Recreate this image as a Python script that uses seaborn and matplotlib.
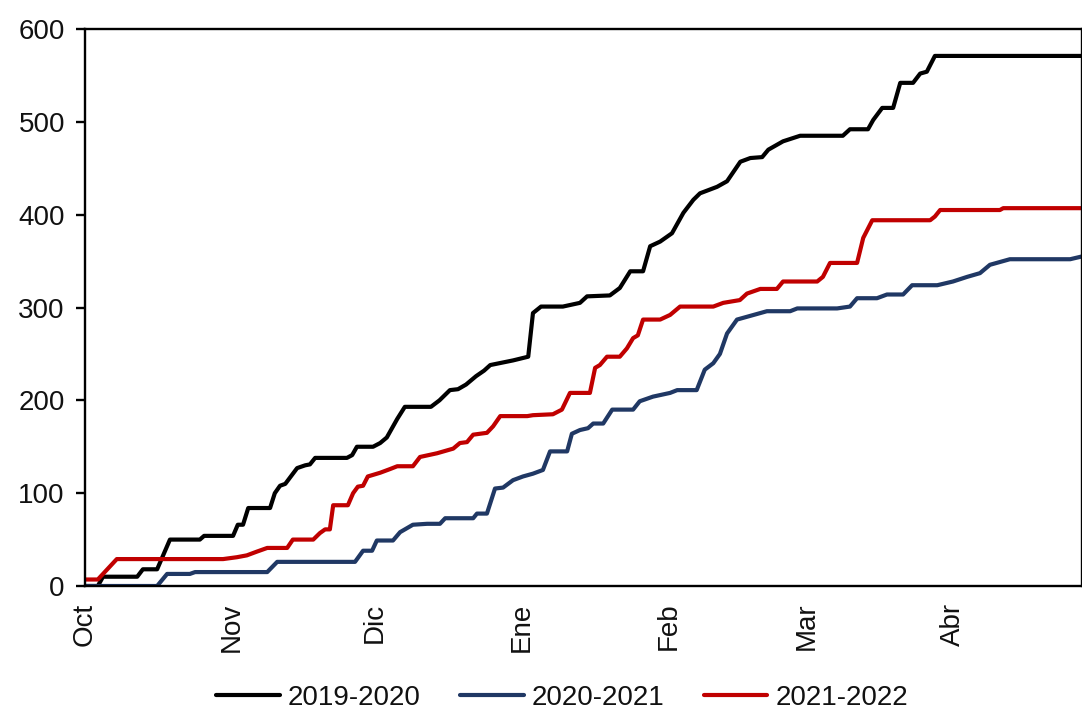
import matplotlib
matplotlib.use("Agg")
import matplotlib.pyplot as plt
import seaborn as sns
import pandas as pd

# Days since 1 October, cumulative values
days_1920 = [0, 2.7, 3.8, 11.0, 12.2, 15.2, 17.9, 24.2, 25.1, 31.2, 32.2, 33.3, 34.4, 39.0, 40.0, 41.1, 42.2,
             44.7, 46.4, 47.4, 48.5, 55.2, 56.3, 57.3, 60.7, 62.2, 63.6, 65.8, 67.4, 72.9, 74.7, 76.9, 78.6,
             80.3, 82.4, 84.1, 85.4, 90.2, 93.4, 94.4, 96.1, 100.7, 104.3, 105.8, 110.6, 112.7, 114.9, 117.6,
             119.1, 121.2, 123.7, 126.1, 128.2, 129.6, 133.2, 135.3, 138.1, 140.2, 142.7, 144.0, 147.1, 150.7,
             159.7, 161.2, 165.0, 166.1, 168.0, 170.3, 171.8, 174.5, 176.0, 177.4, 179.1, 210.1]
vals_1920 = [0, 0, 10, 10, 18, 18, 50, 50, 54, 54, 66, 66, 84, 84, 100, 108, 110,
             127, 130, 131, 138, 138, 141, 150, 150, 154, 160, 180, 193, 193, 200, 211, 212,
             217, 226, 232, 238, 243, 247, 294, 301, 301, 305, 312, 313, 321, 339, 339,
             366, 371, 380, 402, 416, 423, 430, 436, 457, 461, 462, 470, 479, 485,
             485, 492, 492, 502, 515, 515, 542, 542, 552, 554, 571, 571]

days_2021 = [0, 15.2, 17.3, 22.1, 23.2, 38.4, 40.5, 56.9, 58.6, 60.5, 61.5, 64.9, 66.4, 69.1, 72.1, 74.8,
             75.9, 81.8, 82.6, 84.7, 86.4, 88.1, 90.2, 92.3, 94.4, 96.5, 98.0, 101.6, 102.6, 104.3, 106.0,
             107.1, 109.2, 111.1, 115.5, 116.9, 119.7, 123.3, 124.8, 128.9, 130.6, 132.4, 133.8, 135.3,
             137.4, 140.2, 143.7, 148.6, 150.1, 158.5, 161.2, 162.7, 166.9, 169.0, 172.4, 174.3, 179.6,
             182.9, 185.9, 188.6, 190.7, 194.9, 207.6, 210.1]
vals_2021 = [0, 0, 13, 13, 15, 15, 26, 26, 38, 38, 49, 49, 58, 66, 67, 67,
             73, 73, 78, 78, 105, 106, 114, 118, 121, 125, 145, 145, 164, 168, 170,
             175, 175, 190, 190, 199, 204, 208, 211, 211, 233, 240, 250, 272,
             287, 291, 296, 296, 299, 299, 301, 310, 310, 314, 314, 324, 324,
             328, 333, 337, 346, 352, 352, 355]

days_2122 = [0, 2.7, 6.7, 29.1, 32.0, 34.1, 36.2, 38.4, 42.6, 43.8, 48.1, 49.5, 50.6, 51.6, 52.3, 55.4,
             56.5, 57.5, 58.6, 59.6, 62.2, 64.3, 65.8, 69.1, 70.6, 74.2, 77.6, 79.0, 80.5, 81.8, 84.7,
             86.0, 87.5, 93.2, 94.4, 98.6, 100.5, 102.2, 106.4, 107.5, 108.5, 110.0, 112.7, 114.2, 115.5,
             116.5, 117.6, 121.2, 123.3, 125.4, 132.4, 134.5, 138.0, 139.5, 142.3, 145.8, 147.1, 154.3,
             155.5, 157.0, 162.7, 164.0, 165.9, 178.1, 179.1, 180.2, 192.8, 193.5, 210.1]
vals_2122 = [7, 7, 29, 29, 31, 33, 37, 41, 41, 50, 50, 57, 61, 61, 87, 87,
             100, 107, 108, 118, 122, 126, 129, 129, 139, 143, 148, 154, 155, 163, 165,
             172, 183, 183, 184, 185, 190, 208, 208, 235, 238, 247, 247, 256, 267,
             270, 287, 287, 292, 301, 301, 305, 308, 315, 320, 320, 328, 328,
             333, 348, 348, 375, 394, 394, 398, 405, 405, 407, 407]

series_names = ["2019-2020", "2020-2021", "2021-2022"]
series_colors = ["#000000", "#203864", "#C00000"]
month_labels = ["Oct", "Nov", "Dic", "Ene", "Feb", "Mar", "Abr"]
month_starts = [0, 31, 61, 92, 123, 152, 183]
y_ticks = [0, 100, 200, 300, 400, 500, 600]

frames = []
for name, d, v in zip(series_names, [days_1920, days_2021, days_2122], [vals_1920, vals_2021, vals_2122]):
    frames.append(pd.DataFrame({"day": d, "value": v, "season": name}))
df = pd.concat(frames, ignore_index=True)

sns.set_theme(style="white")
plt.rcParams["font.family"] = ["Liberation Sans", "DejaVu Sans"]

fig = plt.figure(figsize=(10.82, 7.11), dpi=100)
ax = fig.add_axes([85 / 1082, 1 - 586 / 711, 1 - 85 / 1082, (586 - 29) / 711])

sns.lineplot(data=df, x="day", y="value", hue="season", palette=dict(zip(series_names, series_colors)),
             hue_order=series_names, linewidth=3.0, ax=ax, legend=False, estimator=None, sort=False)

ax.set_xlim(0, 210.1)
ax.set_ylim(0, 600)
ax.set_yticks(y_ticks)
ax.set_yticklabels([str(t) for t in y_ticks])
ax.set_xticks(month_starts)
ax.set_xticklabels(month_labels, rotation=90, va="top", ha="center")
ax.set_xlabel("")
ax.set_ylabel("")

for side in ["left", "bottom", "top", "right"]:
    ax.spines[side].set_visible(True)
    ax.spines[side].set_color("black")
    ax.spines[side].set_linewidth(1.7)

ax.tick_params(axis="y", which="major", left=True, length=6.5, width=1.7, color="black",
               labelsize=20, labelcolor="#111111", pad=8)
ax.tick_params(axis="x", which="major", bottom=False, length=0, labelsize=20, labelcolor="#111111", pad=12)

handles = [plt.Line2D([0], [0], color=c, lw=3.0) for c in series_colors]
fig.legend(handles, series_names, loc="center", bbox_to_anchor=(562 / 1082, 1 - 698 / 711), ncol=3,
           frameon=False, fontsize=20, handlelength=2.3, handletextpad=0.3, columnspacing=1.4,
           labelcolor="#111111", borderaxespad=0, borderpad=0)

fig.savefig("out.png", dpi=100)
